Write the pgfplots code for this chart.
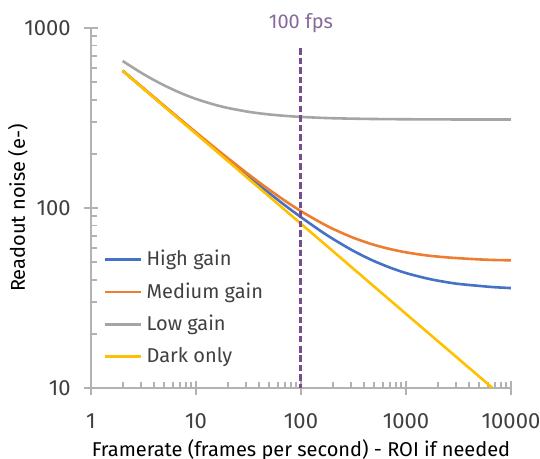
\documentclass[border=0pt]{standalone}
\usepackage{fontspec}
\setmainfont{Fira Sans}
\usepackage{pgfplots}
\pgfplotsset{compat=1.18}
\definecolor{hg}{RGB}{68,114,196}
\definecolor{mg}{RGB}{237,125,49}
\definecolor{lg}{RGB}{165,165,165}
\definecolor{dk}{RGB}{255,192,0}
\definecolor{axc}{RGB}{178,178,178}
\definecolor{txt}{RGB}{64,64,64}
\definecolor{fpsline}{RGB}{120,78,138}
\definecolor{fpstext}{RGB}{135,105,155}
\begin{document}
\begin{tikzpicture}
\begin{axis}[
  name=ax,
  scale only axis,
  width=210pt, height=180pt,
  xmode=log, ymode=log,
  xmin=1, xmax=10000, ymin=10, ymax=1000,
  axis lines=left,
  axis line style={-, draw=axc, line width=1pt},
  every tick/.style={draw=axc, line width=0.9pt},
  tick align=center,
  major tick length=7pt,
  minor tick length=3pt,
  minor x tick style={yshift=1.5pt},
  minor y tick style={xshift=1.5pt},
  xtick={1,10,100,1000,10000},
  xticklabels={1,10,100,1000,10000},
  ytick={10,100,1000},
  yticklabels={10,100,1000},
  /pgf/number format/assume math mode=true,
  tick label style={font=\fontsize{11}{13}\selectfont, text=txt, inner sep=1pt},
  xticklabel style={yshift=-8pt},
  yticklabel style={xshift=-5.5pt},
  label style={font=\fontsize{10}{12}\selectfont, text=txt, inner sep=1pt},
  xlabel={Framerate (frames per second) - ROI if needed},
  ylabel={Readout noise (e-)},
  every axis x label/.style={at={([yshift=-31.2pt]axis description cs:0.5,0)}, anchor=center},
  every axis y label/.style={at={([xshift=-36.5pt]axis description cs:0,0.5)}, anchor=center, rotate=90},
  clip mode=individual,
  legend style={at={(0.03,0.395)}, anchor=north west, draw=none, fill=none,
    font=\fontsize{10}{12}\selectfont, text=txt, row sep=2.9pt,
    inner sep=0pt},
  legend cell align=left,
  legend image code/.code={\draw[#1, line width=1.3pt] (0pt,0pt) -- (18pt,0pt);},
  every axis plot/.append style={line width=1.3pt, smooth},
]
\addplot[hg] coordinates {
(2,578.8)(3,473.0)(4,410.0)(5,367.0)(7,310.8)(10,260.7)(15,213.8)(20,186.0)(30,153.2)(40,133.8)(50,120.7)(70,103.7)(100,88.9)(150,75.3)(200,67.5)(300,58.7)(400,53.8)(500,50.6)(700,46.7)(1000,43.5)(1500,40.9)(2000,39.5)(3000,38.0)(5000,36.9)(7000,36.3)(10000,35.9)};
\addlegendentry{High gain}
\addplot[mg] coordinates {
(2,579.9)(3,474.4)(4,411.6)(5,368.8)(7,312.9)(10,263.2)(15,216.9)(20,189.5)(30,157.5)(40,138.7)(50,126.1)(70,109.9)(100,96.0)(150,83.7)(200,76.7)(300,69.1)(400,65.0)(500,62.3)(700,59.2)(1000,56.7)(1500,54.7)(2000,53.7)(3000,52.7)(5000,51.8)(7000,51.4)(10000,51.2)};
\addlegendentry{Medium gain}
\addplot[lg] coordinates {
(2,655.6)(3,564.4)(4,512.8)(5,479.2)(7,437.6)(10,403.5)(15,375.0)(20,359.8)(30,344.0)(40,335.8)(50,330.8)(70,325.0)(100,320.6)(150,317.1)(200,315.3)(300,313.6)(500,312.1)(1000,311.1)(2000,310.5)(5000,310.2)(10000,310.1)};
\addlegendentry{Low gain}
\addplot[dk] coordinates {
(2,577.7)(10,258.4)(100,81.7)(1000,25.8)(6675,10)};
\addlegendentry{Dark only}
\addplot[fpsline, line width=1.5pt, dash pattern=on 3.2pt off 1.6pt, forget plot, smooth=false] coordinates {(100,774)(100,10)};
\node[text=fpstext, font=\fontsize{10}{12}\selectfont, anchor=base, inner sep=1pt] at (axis cs:100,1000) [yshift=-0.5pt] {100 fps};
\end{axis}
\pgfresetboundingbox
\path[use as bounding box] ([xshift=-45.5pt, yshift=-35.5pt]ax.south west) rectangle ([xshift=14.5pt, yshift=14pt]ax.north east);
\end{tikzpicture}
\end{document}
